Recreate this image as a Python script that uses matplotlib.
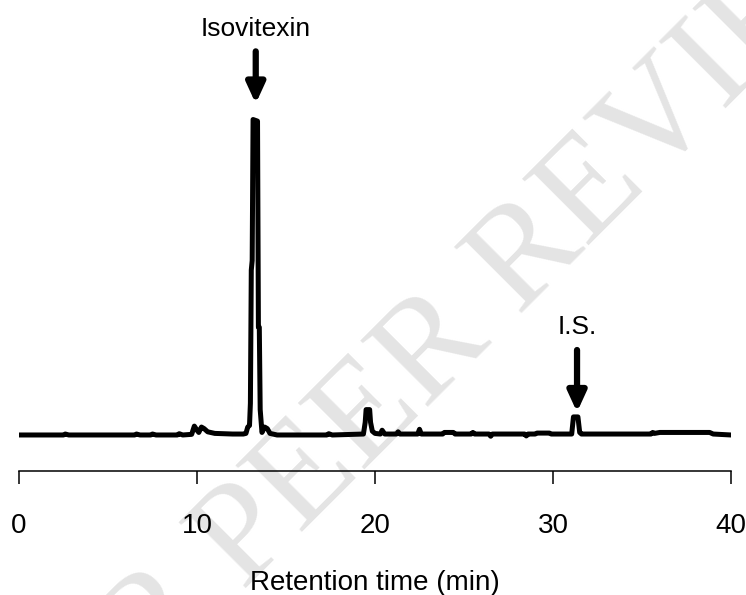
import matplotlib
matplotlib.use("Agg")
import matplotlib.pyplot as plt

# Chromatogram trace (retention time in min, relative intensity)
time_min = [0.0, 2.5, 2.6, 2.8, 6.5, 6.6, 6.8, 7.4, 7.5, 7.7, 8.9, 9.0, 9.2,
            9.7, 9.85, 10.0, 10.1, 10.25, 10.4, 10.6, 11.0, 12.0, 12.6, 12.75,
            12.85, 12.95, 13.0, 13.05, 13.1, 13.15, 13.4, 13.45, 13.5, 13.55,
            13.65, 13.8, 13.95, 14.1, 14.5, 17.3, 17.4, 17.6, 19.35, 19.45,
            19.5, 19.7, 19.75, 19.85, 20.0, 20.3, 20.4, 20.55, 21.2, 21.3,
            21.4, 22.4, 22.5, 22.6, 23.8, 23.9, 24.4, 24.5, 25.4, 25.5, 25.6,
            26.4, 26.5, 26.6, 28.4, 28.5, 28.6, 29.0, 29.1, 29.8, 29.9, 31.05,
            31.15, 31.4, 31.5, 31.6, 35.5, 35.6, 35.7, 36.0, 38.8, 39.0, 40.0]
intensity = [0.0, 0.0, 0.3, 0.0, 0.0, 0.3, 0.0, 0.0, 0.3, 0.0, 0.0, 0.4, 0.0,
             0.2, 2.8, 1.5, 0.8, 2.5, 2.0, 1.0, 0.5, 0.3, 0.3, 0.5,
             2.5, 3.0, 10.0, 52.0, 55.0, 99.5, 99.0, 34.0, 34.0, 8.0,
             0.8, 2.5, 2.0, 0.5, 0.0, 0.0, 0.4, 0.0, 0.3, 4.0,
             8.0, 8.0, 4.0, 1.2, 0.5, 0.3, 1.5, 0.3, 0.3, 1.0,
             0.3, 0.3, 1.8, 0.3, 0.3, 0.8, 0.8, 0.3, 0.3, 0.8, 0.3,
             0.3, -0.4, 0.3, 0.3, -0.3, 0.3, 0.3, 0.6, 0.6, 0.3, 0.3,
             5.7, 5.7, 0.8, 0.3, 0.3, 0.8, 0.5, 0.8, 0.8, 0.3, 0.0]

xticks = [0, 10, 20, 30, 40]
peak_labels = ["Isovitexin", "I.S."]
peak_times = [13.3, 31.35]
arrow_tip = [104.5, 7.2]
arrow_tail = [121.0, 26.8]
label_y = [128.2, 34.0]

plt.rcParams['font.family'] = ['Liberation Sans', 'DejaVu Sans']

fig = plt.figure(figsize=(7.46, 5.95), dpi=100)
ax = fig.add_axes([19/746, 1 - 471/595, 712/746, 471/595])
ax.patch.set_visible(False)

# watermark
fig.text(443/746, 1 - 343/595, "FOR PEER REVIEW", rotation=45,
         rotation_mode='anchor', ha='center', va='center',
         fontsize=104, family='Liberation Serif', color='#e4e4e4', zorder=-1)

ax.plot(time_min, intensity, color='black', lw=3.6, solid_joinstyle='round',
        zorder=3)

for name, t, tip, tail, ly in zip(peak_labels, peak_times, arrow_tip,
                                  arrow_tail, label_y):
    ax.annotate("", xy=(t, tip), xytext=(t, tail),
                arrowprops=dict(arrowstyle='-|>,head_length=1.2,head_width=0.55',
                                lw=4.5, color='black', shrinkA=0, shrinkB=0),
                annotation_clip=False)
    ax.text(t, ly, name, ha='center', va='center', fontsize=19)

ax.set_xlim(0, 40)
ax.set_ylim(-11.36, 137.2)
ax.set_xticks(xticks)
ax.set_xticklabels([str(v) for v in xticks], fontsize=20)
ax.tick_params(axis='x', direction='out', length=9.5, width=1.1, pad=21)
ax.set_yticks([])
for s in ['top', 'right', 'left']:
    ax.spines[s].set_visible(False)
ax.spines['bottom'].set_linewidth(1.1)
ax.set_xlabel("Retention time (min)", fontsize=20, labelpad=22)

fig.savefig("out.png", dpi=100)
